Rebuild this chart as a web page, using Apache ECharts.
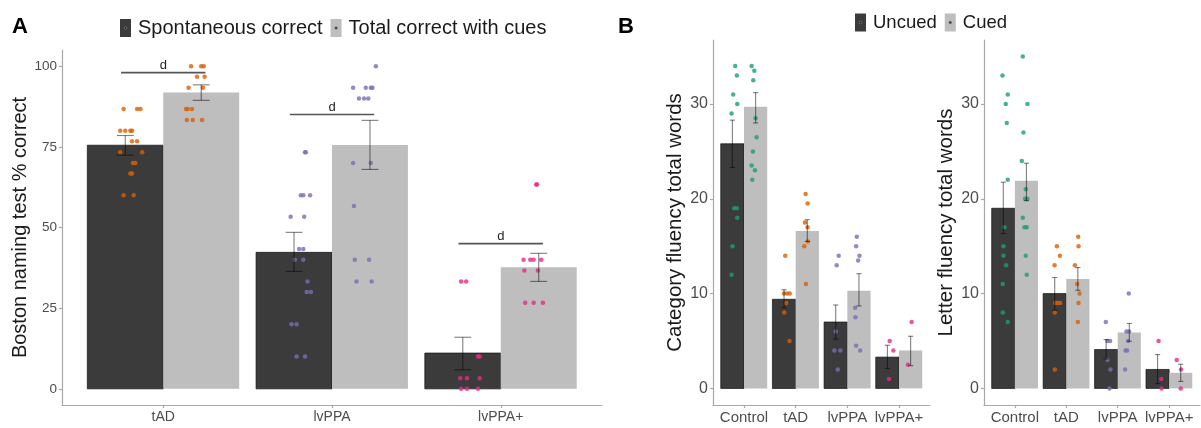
<!DOCTYPE html>
<html><head><meta charset="utf-8">
<script src="https://cdn.jsdelivr.net/npm/echarts@6/dist/echarts.min.js"></script>
<style>html,body{margin:0;padding:0;background:#fff}#c{width:1201px;height:428px}</style>
</head><body><div id="c"></div>
<script>
// ---------- Panel A data ----------
const groupsA = ['tAD', 'lvPPA', 'lvPPA+'];
const spontMean = [75.5, 42.3, 11.1];
const spontLow = [72.4, 36.4, 5.9];
const spontHigh = [78.5, 48.5, 16.0];
const cuesMean = [91.8, 75.6, 37.7];
const cuesLow = [89.4, 68.0, 33.3];
const cuesHigh = [94.2, 83.2, 42.0];
const sigY = [98, 85, 45];
const sigLabel = ['d', 'd', 'd'];
// individual points: [jitter offset, value]
const spontPoints = [
  [[-0.01,86.7],[0.07,86.7],[0.09,86.7],[-0.03,80],[0,80],[0.03,80],[0.04,80],[0.04,76.7],[0.07,76.7],[-0.03,73.3],[0.1,73.3],[0.045,70],[0.06,70],[0.03,66.7],[0.04,66.7],[-0.01,60],[0.05,60]],
  [[0.065,73.3],[0.07,73.3],[0.04,60],[0.055,60],[0.095,60],[-0.02,53.3],[0.06,53.3],[0.03,43.3],[0.055,43.3],[0.005,40],[0.055,40],[0.08,33.3],[0.075,30],[0.1,30],[-0.015,20],[0.015,20],[0.015,10],[0.065,10]],
  [[-0.01,33.3],[0.02,33.3],[0.09,10],[0.1,10],[-0.015,3.3],[0.025,3.3],[0.1,3.3],[-0.01,0],[0.025,0],[0.09,0]]
];
const cuesPoints = [
  [[-0.06,100],[0,100],[0.015,100],[-0.025,96.7],[0.02,96.7],[-0.075,93.3],[0.01,93.3],[-0.09,86.7],[-0.08,86.7],[-0.055,86.7],[-0.085,83.3],[-0.05,83.3],[0.005,83.3]],
  [[0.035,100],[-0.1,93.3],[-0.025,93.3],[0.005,93.3],[0.015,93.3],[-0.065,90],[-0.035,90],[-0.01,90],[-0.1,70],[0.005,70],[-0.095,56.7],[-0.09,40],[-0.005,40],[-0.08,33.3],[0.01,33.3]],
  [[-0.015,63.3],[-0.01,63.3],[-0.09,40],[-0.05,40],[-0.03,40],[0.015,40],[-0.085,36.7],[-0.005,36.7],[-0.08,26.7],[-0.03,26.7],[0.025,26.7]]
];

// ---------- Panel B data ----------
const groupsB = ['Control', 'tAD', 'lvPPA', 'lvPPA+'];
const catUncuedMean = [25.8, 9.4, 7.0, 3.3];
const catUncuedLow = [23.3, 8.5, 5.2, 2.1];
const catUncuedHigh = [28.3, 10.4, 8.8, 4.55];
const catCuedMean = [29.7, 16.6, 10.3, 4.0];
const catCuedLow = [28.0, 15.5, 8.7, 2.4];
const catCuedHigh = [31.2, 17.8, 12.1, 5.5];
const letUncuedMean = [19.0, 10.0, 4.1, 2.0];
const letUncuedLow = [16.35, 8.25, 3.1, 0.5];
const letUncuedHigh = [21.75, 11.7, 5.15, 3.57];
const letCuedMean = [21.9, 11.55, 5.9, 1.65];
const letCuedLow = [19.8, 10.35, 4.97, 0.74];
const letCuedHigh = [23.75, 12.75, 6.85, 2.55];
const catUncuedPoints = [
  [[0.055,34],[0.087,33],[0.016,31],[0.094,30],[-0.016,29],[0.035,19],[0.087,19],[0.094,18],[0.003,15],[-0.016,12]],
  [[0.023,14],[0,10],[0.06,10],[0.11,10],[0.042,9],[0.003,8],[0.106,5]],
  [[0.058,14],[0.019,13],[0,6],[-0.026,4],[0.09,4],[0.039,2]],
  [[0.045,5],[0.116,4],[0.032,1]]
];
const catCuedPoints = [
  [[-0.077,34],[-0.026,33.5],[-0.045,32.5],[0,28.5],[0.019,26.5],[-0.052,25],[-0.077,23.5],[-0.013,23],[-0.065,22]],
  [[-0.032,20.5],[0.006,19.5],[-0.045,17.5],[0.006,17],[0.013,15.5],[-0.058,15],[-0.026,11]],
  [[-0.042,16],[-0.055,15],[0.01,14],[-0.016,13.5],[-0.074,8.5],[-0.068,7.5],[-0.055,4.5],[0.023,4]],
  [[0.019,7],[-0.052,2.5]]
];
const letUncuedPoints = [
  [[-0.016,33],[0.087,31],[0.048,30],[0.068,28],[0.087,22],[0.023,17],[0.003,15],[0.003,14],[0.055,13],[-0.01,11],[-0.01,8],[0.087,7]],
  [[0.042,15],[0.1,14],[-0.003,13],[0.01,9],[0.061,9],[0.106,9],[0.003,8],[0.003,2]],
  [[-0.006,7],[0.026,5],[0.077,5],[0.026,3],[0.084,2],[0.065,0]],
  [[0.019,5],[0.071,1],[0.077,0]]
];
const letCuedPoints = [
  [[-0.071,35],[0.019,30],[-0.058,27],[-0.09,24],[-0.013,21],[-0.026,20],[0.019,20],[-0.071,18],[-0.039,17],[0.006,17],[-0.013,14],[0.006,12]],
  [[0.006,16],[0.013,15],[-0.058,13],[-0.013,11],[0.032,10],[0.013,9],[0,7]],
  [[-0.01,10],[-0.055,6],[-0.003,6],[-0.023,5],[-0.074,4],[-0.042,4],[-0.081,2]],
  [[-0.077,3],[0.006,2],[0,0]]
];

const groupColors = { 'Control': '#1B9E77', 'tAD': '#D95F02', 'lvPPA': '#7570B3', 'lvPPA+': '#E7298A' };
const DARK = '#3b3b3b', LIGHT = '#bebebe';
const FONT = 'Liberation Sans, Arial, sans-serif';
const DODGE = 0.225, HALF = 0.225;

function barSeries(name, means, dodge, color, stroke, grid) {
  return {
    name: name, type: 'custom', xAxisIndex: grid, yAxisIndex: grid, z: 2,
    itemStyle: { color: color },
    encode: { x: 0, y: 1 },
    data: means.map((m, i) => [i + 1 + dodge, m]),
    renderItem: function (params, api) {
      const x = api.value(0), v = api.value(1);
      const p1 = api.coord([x - HALF, v]);
      const p2 = api.coord([x + HALF, 0]);
      return { type: 'rect', shape: { x: p1[0], y: p1[1], width: p2[0] - p1[0], height: p2[1] - p1[1] },
        style: { fill: color, stroke: stroke, lineWidth: stroke ? 0.7 : 0 } };
    }
  };
}
function errSeries(lows, highs, dodge, grid) {
  return {
    name: 'err', type: 'custom', xAxisIndex: grid, yAxisIndex: grid, z: 5,
    encode: { x: 0, y: [1, 2] },
    data: lows.map((l, i) => [i + 1 + dodge, l, highs[i]]),
    renderItem: function (params, api) {
      const x = api.value(0);
      const lo = api.coord([x, api.value(1)]);
      const hi = api.coord([x, api.value(2)]);
      const cl = api.coord([x - 0.05, 0])[0], cr = api.coord([x + 0.05, 0])[0];
      const st = { stroke: 'rgba(0,0,0,0.5)', lineWidth: 1.1 };
      return { type: 'group', children: [
        { type: 'line', shape: { x1: lo[0], y1: lo[1], x2: hi[0], y2: hi[1] }, style: st },
        { type: 'line', shape: { x1: cl, y1: lo[1], x2: cr, y2: lo[1] }, style: st },
        { type: 'line', shape: { x1: cl, y1: hi[1], x2: cr, y2: hi[1] }, style: st }
      ] };
    }
  };
}
function pointSeries(pointsByGroup, groups, dodge, grid) {
  const data = [];
  pointsByGroup.forEach((pts, i) => {
    pts.forEach(p => data.push({ value: [i + 1 + dodge + p[0], p[1]], itemStyle: { color: groupColors[groups[i]] } }));
  });
  return { name: 'pts', type: 'scatter', xAxisIndex: grid, yAxisIndex: grid, z: 4,
    symbolSize: 4.5, data: data, silent: true };
}

const labelStyle = { color: '#4d4d4d', fontFamily: FONT };
const axisLineStyle = { color: '#a8a8a8', width: 1.2 };

function xAxisDef(grid, groups, fontSize) {
  const vals = groups.map((g, i) => i + 1);
  return { type: 'value', gridIndex: grid, min: 0.4, max: groups.length + 0.6,
    axisLine: { show: true, onZero: false, lineStyle: axisLineStyle },
    axisTick: { show: true, customValues: vals, length: 3, lineStyle: axisLineStyle },
    axisLabel: Object.assign({ customValues: vals, fontSize: fontSize, margin: 5,
      formatter: v => groups[Math.round(v) - 1] || '' }, labelStyle),
    splitLine: { show: false } };
}
function yAxisDef(grid, min, max, ticks, name, nameSize, tickSize, gap) {
  return { type: 'value', gridIndex: grid, min: min, max: max,
    axisLine: { show: true, onZero: false, lineStyle: axisLineStyle },
    axisTick: { show: true, customValues: ticks, length: 3, lineStyle: axisLineStyle },
    axisLabel: Object.assign({ customValues: ticks, fontSize: tickSize, margin: 5 }, labelStyle),
    splitLine: { show: false },
    name: name, nameLocation: 'middle', nameGap: gap,
    nameTextStyle: { fontSize: nameSize, color: '#1a1a1a', fontFamily: FONT } };
}

const sigSeries = {
  name: 'sig', type: 'custom', xAxisIndex: 0, yAxisIndex: 0, z: 6,
  encode: { x: 0, y: 1 },
  data: sigY.map((y, i) => [i + 1, y, i]),
  renderItem: function (params, api) {
    const x = api.value(0), y = api.value(1);
    const a = api.coord([x - 0.25, y]), b = api.coord([x + 0.25, y]);
    return { type: 'group', children: [
      { type: 'line', shape: { x1: a[0], y1: a[1], x2: b[0], y2: b[1] }, style: { stroke: '#555', lineWidth: 1.6 } },
      { type: 'text', x: (a[0] + b[0]) / 2, y: a[1] - 0.5,
        style: { text: sigLabel[api.value(2)], fill: '#222', font: '13px ' + FONT, align: 'center', verticalAlign: 'bottom' } }
    ] };
  }
};

function keyDot(x, y, fill, stroke) {
  return { type: 'circle', shape: { cx: x, cy: y, r: 1.3 }, z: 100,
    style: { fill: fill, stroke: stroke, lineWidth: 0.6 } };
}

const KEY_W = 11, KEY_H = 18;
const chart = echarts.init(document.getElementById('c'), null, { renderer: 'canvas' });
chart.setOption({
  animation: false,
  backgroundColor: '#fff',
  textStyle: { fontFamily: FONT },
  grid: [
    { left: 62, right: 599, top: 50, bottom: 23 },
    { left: 713, right: 271, top: 40, bottom: 23 },
    { left: 984, right: 1, top: 40, bottom: 23 }
  ],
  legend: [
    { data: ['Spontaneous correct', 'Total correct with cues'], left: 120, top: 18, padding: 0, icon: 'rect',
      itemWidth: KEY_W, itemHeight: KEY_H, itemGap: 8, selectedMode: false,
      textStyle: { fontSize: 20, color: '#1a1a1a', fontFamily: FONT, padding: [0, 0, 0, 2] } },
    { data: ['Uncued', 'Cued'], left: 855, top: 13, padding: 0, icon: 'rect',
      itemWidth: KEY_W, itemHeight: KEY_H, itemGap: 8, selectedMode: false,
      textStyle: { fontSize: 18.5, color: '#1a1a1a', fontFamily: FONT, padding: [0, 0, 0, 2] } }
  ],
  xAxis: [ xAxisDef(0, groupsA, 14), xAxisDef(1, groupsB, 15), xAxisDef(2, groupsB, 15) ],
  yAxis: [
    yAxisDef(0, -5, 105, [0, 25, 50, 75, 100], 'Boston naming test % correct', 20, 13.5, 30),
    yAxisDef(1, -1.75, 36.75, [0, 10, 20, 30], 'Category fluency total words', 20.5, 16, 26),
    yAxisDef(2, -1.75, 36.75, [0, 10, 20, 30], 'Letter fluency total words', 20.5, 16, 26)
  ],
  graphic: [
    { type: 'text', left: 12, top: 16, style: { text: 'A', font: 'bold 22px ' + FONT, fill: '#000' } },
    { type: 'text', left: 618, top: 16, style: { text: 'B', font: 'bold 22px ' + FONT, fill: '#000' } }
  ],
  series: [
    barSeries('Spontaneous correct', spontMean, -DODGE, DARK, '#111', 0),
    barSeries('Total correct with cues', cuesMean, DODGE, LIGHT, null, 0),
    pointSeries(spontPoints, groupsA, -DODGE, 0),
    pointSeries(cuesPoints, groupsA, DODGE, 0),
    errSeries(spontLow, spontHigh, -DODGE, 0),
    errSeries(cuesLow, cuesHigh, DODGE, 0),
    sigSeries,
    barSeries('Uncued', catUncuedMean, -DODGE, DARK, '#111', 1),
    barSeries('Cued', catCuedMean, DODGE, LIGHT, null, 1),
    pointSeries(catUncuedPoints, groupsB, -DODGE, 1),
    pointSeries(catCuedPoints, groupsB, DODGE, 1),
    errSeries(catUncuedLow, catUncuedHigh, -DODGE, 1),
    errSeries(catCuedLow, catCuedHigh, DODGE, 1),
    barSeries('Uncued', letUncuedMean, -DODGE, DARK, '#111', 2),
    barSeries('Cued', letCuedMean, DODGE, LIGHT, null, 2),
    pointSeries(letUncuedPoints, groupsB, -DODGE, 2),
    pointSeries(letCuedPoints, groupsB, DODGE, 2),
    errSeries(letUncuedLow, letUncuedHigh, -DODGE, 2),
    errSeries(letCuedLow, letCuedHigh, DODGE, 2)
  ]
});
// small dots inside legend keys, placed from the rendered legend items
(function addKeyDots() {
  const dots = [];
  const legends = chart.getModel().findComponents({ mainType: 'legend' });
  legends.forEach((lm) => {
    const view = chart.getViewOfComponentModel(lm);
    if (!view || !view.getContentGroup) return;
    view.getContentGroup().eachChild((item, idx) => {
      const t = item.getComputedTransform ? item.getComputedTransform() : null;
      const tx = t ? t[4] : item.x, ty = t ? t[5] : item.y;
      dots.push(idx === 0 ? keyDot(tx + KEY_W / 2, ty + KEY_H / 2, '#111', '#9a9a9a')
                          : keyDot(tx + KEY_W / 2, ty + KEY_H / 2, '#333', '#777'));
    });
  });
  const g = chart.getOption().graphic[0].elements || [];
  chart.setOption({ graphic: g.concat(dots) });
})();
</script></body></html>
